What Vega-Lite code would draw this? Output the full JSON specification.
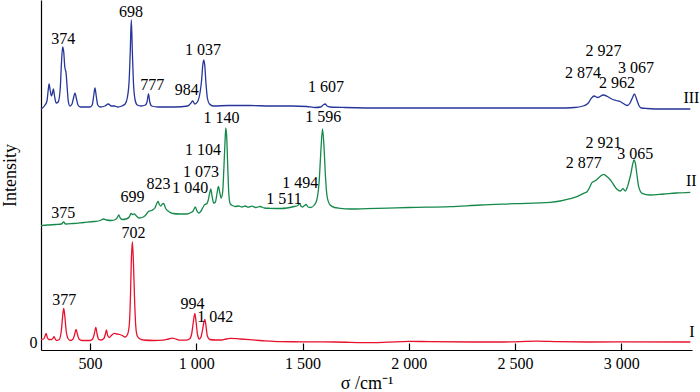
{
  "$schema": "https://vega.github.io/schema/vega-lite/v6.json",
  "width": 651,
  "height": 350,
  "autosize": {"type": "none"},
  "padding": {"left": 41, "top": 0, "right": 8, "bottom": 42},
  "background": "white",
  "config": {
    "view": {"stroke": null},
    "axis": {"domainColor": "black", "tickColor": "black", "labelColor": "black", "titleColor": "black", "labelFont": "Liberation Serif", "titleFont": "Liberation Serif", "labelFontSize": 16, "titleFontSize": 18, "titleFontWeight": "normal", "grid": false, "domainWidth": 1.2, "tickWidth": 1.2}
  },
  "datasets": {
    "spectra": [
      {"s":"III","wn":269,"v":233},{"s":"III","wn":285,"v":236},{"s":"III","wn":297,"v":241},{"s":"III","wn":303,"v":252},{"s":"III","wn":307,"v":258},{"s":"III","wn":312,"v":252},{"s":"III","wn":318,"v":246},{"s":"III","wn":323,"v":249},{"s":"III","wn":327,"v":253},{"s":"III","wn":332,"v":247},{"s":"III","wn":340,"v":239},{"s":"III","wn":350,"v":240},{"s":"III","wn":360,"v":255},{"s":"III","wn":365,"v":278},{"s":"III","wn":371,"v":295},{"s":"III","wn":376,"v":290},{"s":"III","wn":381,"v":275},{"s":"III","wn":387,"v":269},{"s":"III","wn":392,"v":255},{"s":"III","wn":398,"v":240},{"s":"III","wn":405,"v":236},{"s":"III","wn":415,"v":238},{"s":"III","wn":422,"v":244},{"s":"III","wn":429,"v":249},{"s":"III","wn":435,"v":244},{"s":"III","wn":443,"v":237},{"s":"III","wn":455,"v":235},{"s":"III","wn":480,"v":235},{"s":"III","wn":500,"v":235},{"s":"III","wn":510,"v":237},{"s":"III","wn":517,"v":246},{"s":"III","wn":523,"v":254},{"s":"III","wn":529,"v":246},{"s":"III","wn":536,"v":237},{"s":"III","wn":548,"v":235},{"s":"III","wn":570,"v":236},{"s":"III","wn":586,"v":238},{"s":"III","wn":600,"v":236},{"s":"III","wn":615,"v":236},{"s":"III","wn":630,"v":235},{"s":"III","wn":650,"v":236},{"s":"III","wn":665,"v":238},{"s":"III","wn":675,"v":244},{"s":"III","wn":684,"v":262},{"s":"III","wn":689,"v":290},{"s":"III","wn":694,"v":322},{"s":"III","wn":699,"v":290},{"s":"III","wn":704,"v":260},{"s":"III","wn":712,"v":242},{"s":"III","wn":722,"v":237},{"s":"III","wn":740,"v":236},{"s":"III","wn":760,"v":237},{"s":"III","wn":768,"v":240},{"s":"III","wn":775,"v":248},{"s":"III","wn":781,"v":240},{"s":"III","wn":790,"v":236},{"s":"III","wn":820,"v":235},{"s":"III","wn":900,"v":235},{"s":"III","wn":960,"v":236},{"s":"III","wn":975,"v":239},{"s":"III","wn":983,"v":241},{"s":"III","wn":993,"v":238},{"s":"III","wn":1005,"v":240},{"s":"III","wn":1018,"v":250},{"s":"III","wn":1025,"v":262},{"s":"III","wn":1030,"v":276},{"s":"III","wn":1035,"v":282},{"s":"III","wn":1040,"v":276},{"s":"III","wn":1045,"v":260},{"s":"III","wn":1052,"v":244},{"s":"III","wn":1062,"v":238},{"s":"III","wn":1080,"v":236},{"s":"III","wn":1150,"v":236.5},{"s":"III","wn":1250,"v":236.5},{"s":"III","wn":1350,"v":236},{"s":"III","wn":1450,"v":236},{"s":"III","wn":1520,"v":235.5},{"s":"III","wn":1560,"v":234.5},{"s":"III","wn":1585,"v":235},{"s":"III","wn":1600,"v":237.5},{"s":"III","wn":1607,"v":238},{"s":"III","wn":1615,"v":236},{"s":"III","wn":1630,"v":235},{"s":"III","wn":1700,"v":234.5},{"s":"III","wn":1900,"v":234},{"s":"III","wn":2200,"v":234},{"s":"III","wn":2500,"v":234},{"s":"III","wn":2700,"v":234},{"s":"III","wn":2780,"v":234.5},{"s":"III","wn":2820,"v":236},{"s":"III","wn":2845,"v":239},{"s":"III","wn":2860,"v":244},{"s":"III","wn":2872,"v":246},{"s":"III","wn":2890,"v":244.5},{"s":"III","wn":2915,"v":247},{"s":"III","wn":2935,"v":245.5},{"s":"III","wn":2955,"v":243},{"s":"III","wn":2975,"v":241.5},{"s":"III","wn":2995,"v":240.5},{"s":"III","wn":3010,"v":238.5},{"s":"III","wn":3027,"v":236.5},{"s":"III","wn":3040,"v":238.5},{"s":"III","wn":3052,"v":244},{"s":"III","wn":3062,"v":248},{"s":"III","wn":3072,"v":243},{"s":"III","wn":3082,"v":237},{"s":"III","wn":3095,"v":234},{"s":"III","wn":3120,"v":233.5},{"s":"III","wn":3200,"v":233},{"s":"III","wn":3325,"v":233},
      {"s":"II","wn":269,"v":116.3},{"s":"II","wn":300,"v":117},{"s":"II","wn":340,"v":117.5},{"s":"II","wn":365,"v":118},{"s":"II","wn":375,"v":120},{"s":"II","wn":385,"v":118},{"s":"II","wn":420,"v":118.5},{"s":"II","wn":470,"v":119.5},{"s":"II","wn":520,"v":120.5},{"s":"II","wn":548,"v":121.5},{"s":"II","wn":563,"v":123},{"s":"II","wn":578,"v":122},{"s":"II","wn":600,"v":121.5},{"s":"II","wn":620,"v":122.5},{"s":"II","wn":628,"v":124.5},{"s":"II","wn":635,"v":127},{"s":"II","wn":642,"v":124},{"s":"II","wn":652,"v":122.5},{"s":"II","wn":670,"v":123},{"s":"II","wn":684,"v":125},{"s":"II","wn":693,"v":128.5},{"s":"II","wn":700,"v":127.5},{"s":"II","wn":708,"v":128},{"s":"II","wn":716,"v":126.5},{"s":"II","wn":730,"v":124},{"s":"II","wn":745,"v":124.5},{"s":"II","wn":760,"v":126.5},{"s":"II","wn":775,"v":130.5},{"s":"II","wn":790,"v":131.5},{"s":"II","wn":805,"v":134},{"s":"II","wn":815,"v":139},{"s":"II","wn":820,"v":140.5},{"s":"II","wn":826,"v":137.5},{"s":"II","wn":833,"v":136},{"s":"II","wn":840,"v":138},{"s":"II","wn":846,"v":138.5},{"s":"II","wn":856,"v":133.5},{"s":"II","wn":870,"v":130.5},{"s":"II","wn":890,"v":128.5},{"s":"II","wn":920,"v":128},{"s":"II","wn":955,"v":128},{"s":"II","wn":975,"v":129.5},{"s":"II","wn":985,"v":131},{"s":"II","wn":995,"v":135},{"s":"II","wn":1003,"v":131},{"s":"II","wn":1012,"v":129},{"s":"II","wn":1022,"v":131},{"s":"II","wn":1030,"v":134},{"s":"II","wn":1040,"v":137.5},{"s":"II","wn":1048,"v":138},{"s":"II","wn":1055,"v":141},{"s":"II","wn":1062,"v":148},{"s":"II","wn":1068,"v":153},{"s":"II","wn":1074,"v":146},{"s":"II","wn":1082,"v":139},{"s":"II","wn":1090,"v":140},{"s":"II","wn":1097,"v":148},{"s":"II","wn":1104,"v":155.5},{"s":"II","wn":1110,"v":150},{"s":"II","wn":1117,"v":144},{"s":"II","wn":1124,"v":150},{"s":"II","wn":1130,"v":175},{"s":"II","wn":1135,"v":200},{"s":"II","wn":1139,"v":214},{"s":"II","wn":1143,"v":205},{"s":"II","wn":1148,"v":175},{"s":"II","wn":1153,"v":148},{"s":"II","wn":1160,"v":138},{"s":"II","wn":1170,"v":136.5},{"s":"II","wn":1183,"v":135.5},{"s":"II","wn":1200,"v":136},{"s":"II","wn":1215,"v":135},{"s":"II","wn":1230,"v":136},{"s":"II","wn":1245,"v":134.8},{"s":"II","wn":1262,"v":135.8},{"s":"II","wn":1280,"v":134.5},{"s":"II","wn":1300,"v":135.5},{"s":"II","wn":1320,"v":134},{"s":"II","wn":1347,"v":133.7},{"s":"II","wn":1400,"v":133.5},{"s":"II","wn":1426,"v":134},{"s":"II","wn":1460,"v":135.5},{"s":"II","wn":1478,"v":136.5},{"s":"II","wn":1486,"v":138.5},{"s":"II","wn":1494,"v":135.5},{"s":"II","wn":1501,"v":135},{"s":"II","wn":1509,"v":136.5},{"s":"II","wn":1517,"v":137.5},{"s":"II","wn":1526,"v":135},{"s":"II","wn":1539,"v":134.5},{"s":"II","wn":1555,"v":137},{"s":"II","wn":1567,"v":142},{"s":"II","wn":1578,"v":160},{"s":"II","wn":1586,"v":190},{"s":"II","wn":1594,"v":213},{"s":"II","wn":1601,"v":195},{"s":"II","wn":1608,"v":165},{"s":"II","wn":1616,"v":145},{"s":"II","wn":1630,"v":137},{"s":"II","wn":1650,"v":134.5},{"s":"II","wn":1677,"v":133.7},{"s":"II","wn":1724,"v":133},{"s":"II","wn":1800,"v":133.3},{"s":"II","wn":1900,"v":133.8},{"s":"II","wn":2000,"v":134.5},{"s":"II","wn":2195,"v":135.3},{"s":"II","wn":2336,"v":137},{"s":"II","wn":2500,"v":138.3},{"s":"II","wn":2666,"v":139.7},{"s":"II","wn":2713,"v":141},{"s":"II","wn":2760,"v":143.3},{"s":"II","wn":2791,"v":145.3},{"s":"II","wn":2823,"v":148.7},{"s":"II","wn":2839,"v":150.3},{"s":"II","wn":2852,"v":155},{"s":"II","wn":2862,"v":159.3},{"s":"II","wn":2878,"v":161.3},{"s":"II","wn":2898,"v":165},{"s":"II","wn":2917,"v":167.7},{"s":"II","wn":2935,"v":165},{"s":"II","wn":2949,"v":162},{"s":"II","wn":2965,"v":157},{"s":"II","wn":2980,"v":152.7},{"s":"II","wn":2996,"v":151},{"s":"II","wn":3008,"v":153.3},{"s":"II","wn":3019,"v":151},{"s":"II","wn":3027,"v":154},{"s":"II","wn":3034,"v":158.7},{"s":"II","wn":3045,"v":168},{"s":"II","wn":3054,"v":178},{"s":"II","wn":3060,"v":182},{"s":"II","wn":3067,"v":178},{"s":"II","wn":3074,"v":167},{"s":"II","wn":3082,"v":155.3},{"s":"II","wn":3098,"v":148.7},{"s":"II","wn":3136,"v":147},{"s":"II","wn":3200,"v":148},{"s":"II","wn":3260,"v":149},{"s":"II","wn":3325,"v":149.7},
      {"s":"I","wn":269,"v":2.5},{"s":"I","wn":282,"v":3},{"s":"I","wn":288,"v":6},{"s":"I","wn":293,"v":8.7},{"s":"I","wn":298,"v":5},{"s":"I","wn":305,"v":2.5},{"s":"I","wn":318,"v":2.5},{"s":"I","wn":326,"v":4},{"s":"I","wn":330,"v":5.3},{"s":"I","wn":335,"v":3.5},{"s":"I","wn":342,"v":1.5},{"s":"I","wn":355,"v":2.5},{"s":"I","wn":365,"v":12},{"s":"I","wn":371,"v":26},{"s":"I","wn":376,"v":33.7},{"s":"I","wn":381,"v":26},{"s":"I","wn":387,"v":12},{"s":"I","wn":396,"v":3.5},{"s":"I","wn":408,"v":1.5},{"s":"I","wn":420,"v":3},{"s":"I","wn":428,"v":8},{"s":"I","wn":434,"v":12.7},{"s":"I","wn":440,"v":8},{"s":"I","wn":448,"v":3},{"s":"I","wn":462,"v":1.5},{"s":"I","wn":500,"v":1.5},{"s":"I","wn":512,"v":3},{"s":"I","wn":520,"v":8},{"s":"I","wn":527,"v":14.7},{"s":"I","wn":533,"v":8},{"s":"I","wn":541,"v":2.5},{"s":"I","wn":552,"v":2},{"s":"I","wn":565,"v":3.5},{"s":"I","wn":572,"v":8},{"s":"I","wn":577,"v":12},{"s":"I","wn":582,"v":7},{"s":"I","wn":590,"v":4.5},{"s":"I","wn":600,"v":6.5},{"s":"I","wn":613,"v":8.7},{"s":"I","wn":625,"v":8},{"s":"I","wn":640,"v":7.5},{"s":"I","wn":652,"v":6.5},{"s":"I","wn":665,"v":5},{"s":"I","wn":675,"v":7},{"s":"I","wn":684,"v":16},{"s":"I","wn":690,"v":45},{"s":"I","wn":694,"v":80},{"s":"I","wn":699,"v":100.3},{"s":"I","wn":704,"v":80},{"s":"I","wn":709,"v":45},{"s":"I","wn":715,"v":16},{"s":"I","wn":722,"v":6},{"s":"I","wn":735,"v":3},{"s":"I","wn":751,"v":2},{"s":"I","wn":800,"v":1.5},{"s":"I","wn":845,"v":1.8},{"s":"I","wn":870,"v":3},{"s":"I","wn":889,"v":3.8},{"s":"I","wn":905,"v":2.8},{"s":"I","wn":925,"v":1.8},{"s":"I","wn":950,"v":1.8},{"s":"I","wn":968,"v":3},{"s":"I","wn":978,"v":8},{"s":"I","wn":986,"v":20},{"s":"I","wn":993,"v":28.7},{"s":"I","wn":999,"v":20},{"s":"I","wn":1006,"v":7},{"s":"I","wn":1015,"v":3},{"s":"I","wn":1022,"v":5},{"s":"I","wn":1030,"v":13},{"s":"I","wn":1035,"v":19},{"s":"I","wn":1040,"v":22.7},{"s":"I","wn":1045,"v":17},{"s":"I","wn":1052,"v":6},{"s":"I","wn":1063,"v":2.5},{"s":"I","wn":1090,"v":2},{"s":"I","wn":1120,"v":2},{"s":"I","wn":1140,"v":3},{"s":"I","wn":1159,"v":3.7},{"s":"I","wn":1207,"v":3},{"s":"I","wn":1300,"v":1.5},{"s":"I","wn":1394,"v":0.3},{"s":"I","wn":1500,"v":0.2},{"s":"I","wn":1650,"v":0},{"s":"I","wn":1832,"v":-0.7},{"s":"I","wn":1900,"v":-0.2},{"s":"I","wn":2000,"v":0.7},{"s":"I","wn":2100,"v":0.3},{"s":"I","wn":2300,"v":0},{"s":"I","wn":2450,"v":0},{"s":"I","wn":2603,"v":0.8},{"s":"I","wn":2700,"v":0.3},{"s":"I","wn":2850,"v":0},{"s":"I","wn":3000,"v":0.2},{"s":"I","wn":3325,"v":0}
    ],
    "labels": [
      {"t":"374","wn":374,"v":302.7},{"t":"698","wn":693,"v":330.3},{"t":"777","wn":793,"v":257},{"t":"984","wn":955,"v":252},{"t":"1 037","wn":1031,"v":292},{"t":"1 607","wn":1610,"v":254.7},{"t":"2 927","wn":2917,"v":291.3},{"t":"2 874","wn":2820,"v":269.3},{"t":"2 962","wn":2980,"v":258.7},{"t":"3 067","wn":3070,"v":274.3},
      {"t":"1 140","wn":1118,"v":224},{"t":"1 104","wn":1031,"v":192},{"t":"1 073","wn":1022,"v":170.3},{"t":"1 040","wn":971,"v":154},{"t":"823","wn":822,"v":158},{"t":"699","wn":700,"v":145.5},{"t":"375","wn":374,"v":128.7},{"t":"1 511","wn":1413,"v":142.7},{"t":"1 494","wn":1489,"v":159.3},{"t":"1 596","wn":1598,"v":224.7},{"t":"2 921","wn":2917,"v":199.3},{"t":"2 877","wn":2823,"v":178.7},{"t":"3 065","wn":3066,"v":188},
      {"t":"702","wn":704,"v":109.3},{"t":"377","wn":378,"v":42},{"t":"994","wn":982,"v":38},{"t":"1 042","wn":1089,"v":24.7},
      {"t":"III","wn":3330,"v":244},{"t":"II","wn":3330,"v":161},{"t":"I","wn":3333,"v":10.3}
    ]
  },
  "layer": [
    {
      "data": {"name": "spectra"},
      "mark": {"type": "line", "strokeWidth": 1.3, "interpolate": "monotone"},
      "encoding": {
        "x": {"field": "wn", "type": "quantitative", "scale": {"domain": [269, 3333], "nice": false, "zero": false},
          "axis": {"values": [500, 1000, 1500, 2000, 2500, 3000], "labelExpr": "replace(format(datum.value, ','), ',', ' ')", "tickSize": -7, "labelPadding": 12, "title": "σ /cm⁻¹", "titlePadding": 3}},
        "y": {"field": "v", "type": "quantitative", "scale": {"domain": [-8, 342], "nice": false, "zero": false},
          "axis": {"values": [0], "ticks": false, "labelPadding": 4, "title": "Intensity", "titlePadding": 10}},
        "color": {"field": "s", "type": "nominal", "scale": {"domain": ["I", "II", "III"], "range": ["#e8112d", "#14894a", "#26359a"]}, "legend": null},
        "detail": {"field": "s"}
      }
    },
    {
      "data": {"name": "labels"},
      "mark": {"type": "text", "font": "Liberation Serif", "fontSize": 16, "color": "black", "align": "center", "baseline": "middle"},
      "encoding": {
        "x": {"field": "wn", "type": "quantitative"},
        "y": {"field": "v", "type": "quantitative"},
        "text": {"field": "t"}
      }
    }
  ]
}
